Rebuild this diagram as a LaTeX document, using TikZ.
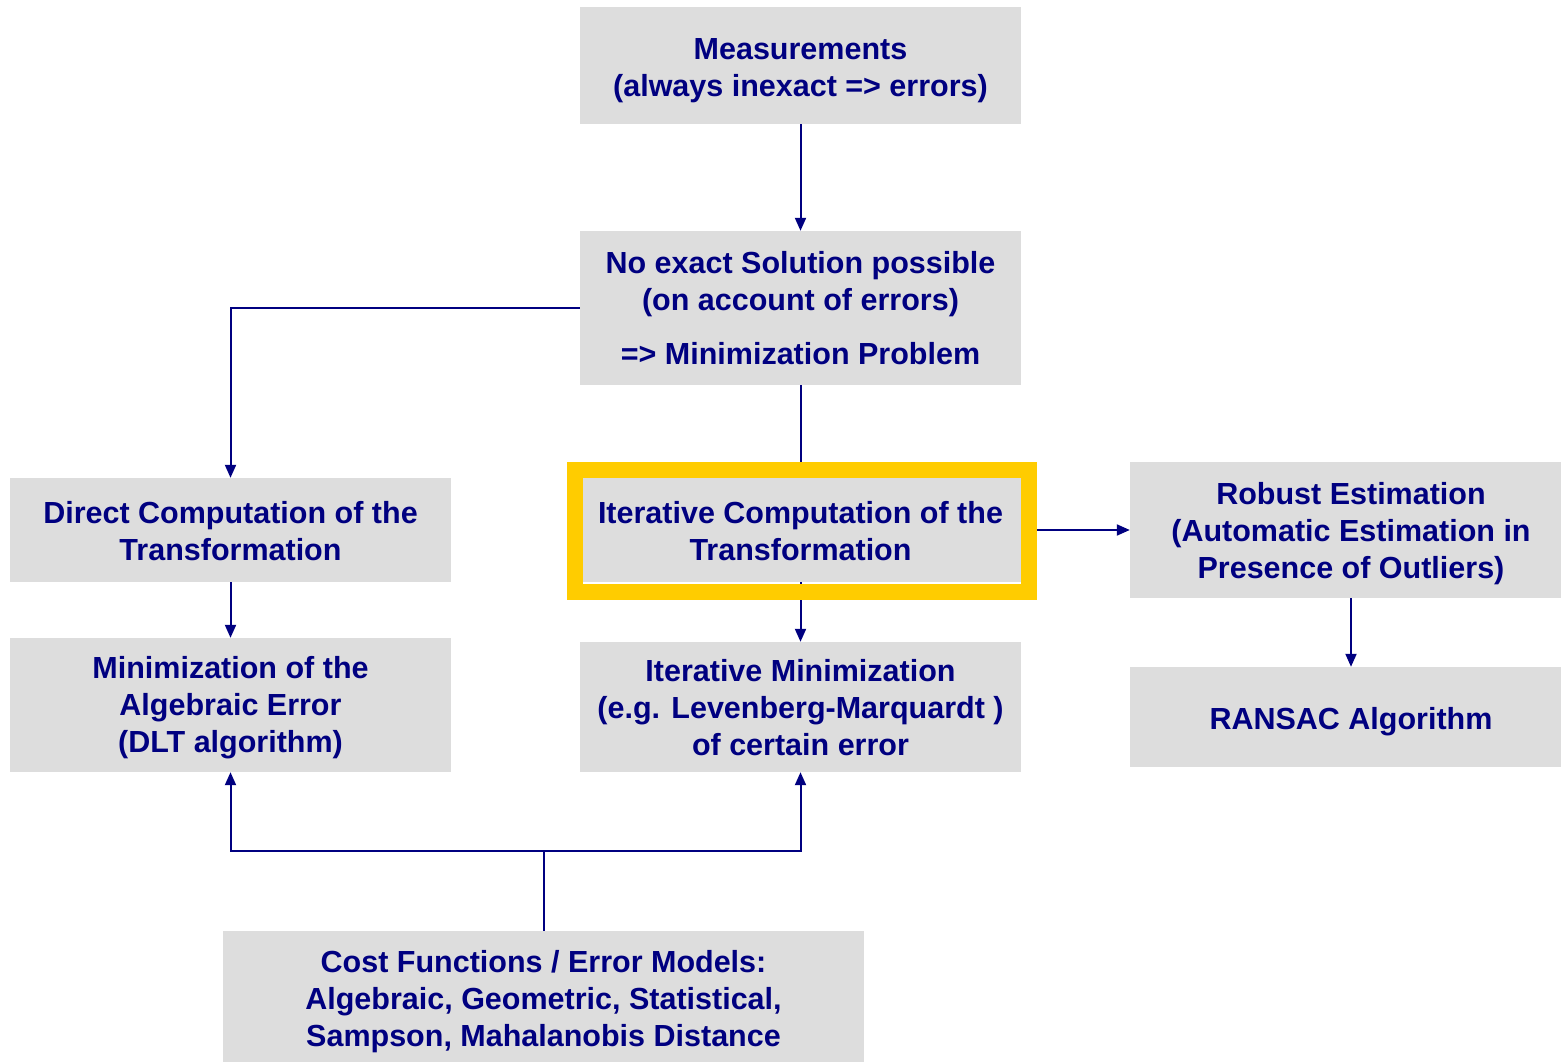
\documentclass[tikz,border=0pt]{standalone}
\usepackage{fontspec}
\setmainfont{Liberation Sans}
\usetikzlibrary{arrows.meta}
\pgfdeclarelayer{background}
\pgfsetlayers{background,main}
\definecolor{navy}{RGB}{0,0,128}
\definecolor{boxgray}{RGB}{221,221,221}
\definecolor{frameyellow}{RGB}{255,204,0}
\newcommand\boxtext[2]{\raisebox{-#1}[\height][\depth]{\begin{tabular}{@{}c@{}}#2\end{tabular}}}
\tikzset{
  box/.style={fill=boxgray, draw=none, inner sep=0pt, text=navy,
    font=\fontsize{30.5}{37}\selectfont\bfseries},
  arr/.style={draw=navy, line width=2pt, -{Triangle[length=13pt,width=11pt]}},
  conn/.style={draw=navy, line width=2pt},
}
\begin{document}
\begin{tikzpicture}[x=1pt,y=-1pt]
\useasboundingbox (0,0) rectangle (1561,1062);
% boxes
\node[box, minimum width=441pt, minimum height=117pt] (meas) at (800.5,65.5)
  {\boxtext{5pt}{Measurements\\(always inexact => errors)}};
\node[box, minimum width=441pt, minimum height=154pt] (nosol) at (800.5,308)
  {\boxtext{3.8pt}{No exact Solution possible\\(on account of errors)\\[17pt]=> Minimization Problem}};
\node[box, minimum width=441pt, minimum height=104pt] (direct) at (230.5,530)
  {\boxtext{4.8pt}{Direct Computation of the\\Transformation}};
\node[box, minimum width=441pt, minimum height=104pt] (itcomp) at (800.5,530)
  {\boxtext{4.8pt}{Iterative Computation of the\\Transformation}};
\draw[frameyellow, line width=16pt] (575,470) rectangle (1029,592);
\node[box, minimum width=442pt, minimum height=136pt] (robust) at (1351,530)
  {\boxtext{4.3pt}{Robust Estimation\\(Automatic Estimation in\\Presence of Outliers)}};
\node[box, minimum width=441pt, minimum height=134pt] (minalg) at (230.5,705)
  {\boxtext{2.8pt}{Minimization of the\\Algebraic Error\\(DLT algorithm)}};
\node[box, minimum width=441pt, minimum height=130pt] (itmin) at (800.5,707)
  {\boxtext{4.3pt}{Iterative Minimization\\(e.g. Levenberg-Marquardt )\\of certain error}};
\node[box, minimum width=442pt, minimum height=100pt] (ransac) at (1351,717)
  {\boxtext{5.3pt}{RANSAC Algorithm}};
\node[box, minimum width=641pt, minimum height=131pt] (cost) at (543.5,996.5)
  {\boxtext{5.6pt}{Cost Functions / Error Models:\\Algebraic, Geometric, Statistical,\\Sampson, Mahalanobis Distance}};
\coordinate (junc) at (543.5,851);
% connectors
\begin{pgfonlayer}{background}
\draw[arr] (meas.south) -- (nosol.north);
\draw[arr] (nosol.west) -| (direct.north);
\draw[arr] (nosol.south) -- (itmin.north);
\draw[arr] (itcomp.east) -- (robust.west);
\draw[arr] (direct.south) -- (minalg.north);
\draw[arr] (robust.south) -- (ransac.north);
\draw[conn] (cost.north) -- (junc);
\draw[arr] (junc) -| (minalg.south);
\draw[arr] (junc) -| (itmin.south);
\end{pgfonlayer}
\end{tikzpicture}
\end{document}
